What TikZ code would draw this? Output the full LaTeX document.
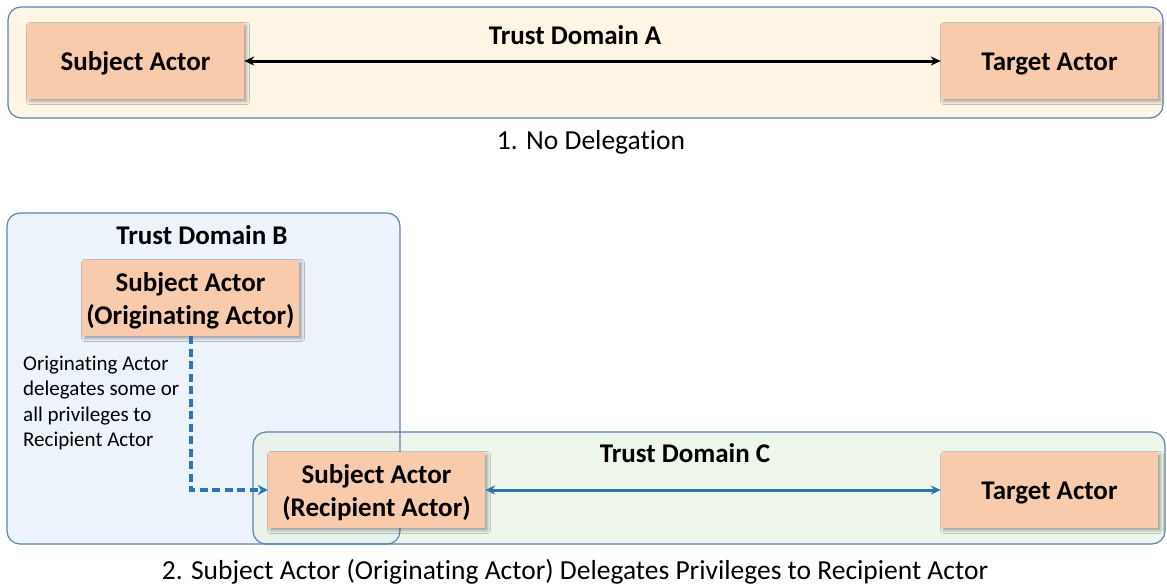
\documentclass[tikz,border=0pt]{standalone}
\usepackage{fontspec}
\setmainfont{Carlito}[Ligatures=NoCommon]
\usetikzlibrary{arrows.meta,shadows.blur,positioning}

\definecolor{domainedge}{HTML}{5B84B1}
\definecolor{domainA}{HTML}{FEF5E4}
\definecolor{domainB}{HTML}{EDF3FA}
\definecolor{domainC}{HTML}{E9F3E6}
\definecolor{actorfill}{HTML}{F8CBAD}
\definecolor{linkblue}{HTML}{2E75B6}

% centred lines of an actor box, lowered a little (keeping the box size) to sit optically centred
\newcommand\actorlines[1]{\raisebox{-3pt}[\height][\depth]{\begin{tabular}{@{}c@{}}#1\end{tabular}}}

\tikzset{
  trustbox/.style={draw=domainedge, line width=1.2pt, rounded corners=13pt, inner sep=0pt},
  actor/.style={fill=actorfill, font=\fontsize{27}{33}\selectfont\bfseries,
    minimum width=217pt, minimum height=76pt, inner sep=0pt,
    blur shadow={shadow xshift=2.5pt, shadow yshift=-2.5pt, shadow blur radius=3pt, shadow opacity=35}},
  domainlabel/.style={font=\fontsize{27}{30}\selectfont\bfseries},
  caption/.style={font=\fontsize{27.5}{30}\selectfont},
  note/.style={font=\fontsize{21}{25.5}\selectfont, align=left, anchor=west, inner sep=0pt},
  blackarrow/.style={line width=3pt, {Stealth[length=10pt,width=9pt]}-{Stealth[length=10pt,width=9pt]}},
  bluearrow/.style={draw=linkblue, line width=3pt, {Stealth[length=10pt,width=9pt]}-{Stealth[length=10pt,width=9pt]}},
  delegation/.style={draw=linkblue, line width=3.2pt, dash pattern=on 8pt off 4.5pt, -{Stealth[length=10pt,width=10pt]}}
}

\begin{document}
\begin{tikzpicture}[x=1pt,y=-1pt]
  \useasboundingbox (0,0) rectangle (1167,584);

  % Case 1: no delegation
  \node[trustbox, fill=domainA, minimum width=1155pt, minimum height=111pt] (domA) at (585.5,62.5) {};
  \node[domainlabel] (labA) at (575,35) {Trust Domain A};
  \node[actor] (subjA) at (135.5,61) {\actorlines{Subject Actor}};
  \node[actor] (targA) at (1049.5,61) {\actorlines{Target Actor}};
  \draw[blackarrow] (subjA.east) -- (targA.west);
  \node[caption] (capA) at (591,142.5) {1. No Delegation};

  % Case 2: delegation across trust domains
  \fill[domainB, rounded corners=13pt] (7,213) rectangle (400,544);
  \fill[domainC, fill opacity=0.75, rounded corners=13pt] (253,432) rectangle (1165,544);
  \node[trustbox, minimum width=393pt, minimum height=331pt] (domB) at (203.5,378.5) {};
  \node[trustbox, minimum width=912pt, minimum height=112pt] (domC) at (709,488) {};
  \node[domainlabel] (labB) at (202,235) {Trust Domain B};
  \node[domainlabel] (labC) at (685,453) {Trust Domain C};

  \node[actor] (orig) at (190.5,298) {\actorlines{Subject Actor\\(Originating Actor)}};
  \node[actor] (recip) at (376.5,490) {\actorlines{Subject Actor\\(Recipient Actor)}};
  \node[actor] (targC) at (1049.5,490) {\actorlines{Target Actor}};

  \coordinate (bend) at (191,490);
  \draw[delegation] (orig.south -| bend) -- (bend) -- (recip.west);
  \draw[bluearrow] (recip.east) -- (targC.west);

  \node[note] (why) at (23,403) {Originating Actor\\delegates some or\\all privileges to\\Recipient Actor};

  \node[caption] (capB) at (575,571.5) {2. Subject Actor (Originating Actor) Delegates Privileges to Recipient Actor};
\end{tikzpicture}
\end{document}
